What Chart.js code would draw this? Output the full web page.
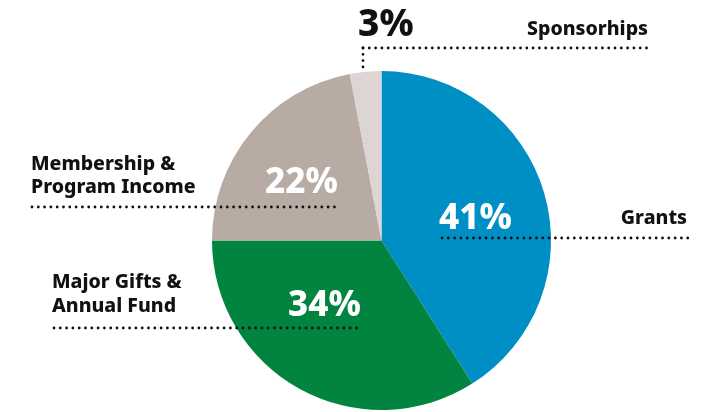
<!DOCTYPE html>
<html>
<head>
<meta charset="utf-8">
<script src="https://cdn.jsdelivr.net/npm/chart.js@4.4.1/dist/chart.umd.min.js"></script>
<style>
  html, body { margin: 0; padding: 0; background: #fff; }
  #wrap { width: 708px; height: 412px; position: relative; }
</style>
</head>
<body>
<div id="wrap"><canvas id="pie"></canvas></div>
<script>
// Data (clockwise from 12 o'clock)
const categories = ["Grants", "Major Gifts & Annual Fund", "Membership & Program Income", "Sponsorhips"];
const shares = [41, 34, 22, 3];
const sliceColors = ["#008FC5", "#00843F", "#B7ABA4", "#DCD5D3"];

const FONT = "'Noto Sans', 'Open Sans', sans-serif";

function dotted(ctx, x1, y1, x2, y2) {
  ctx.save();
  ctx.strokeStyle = "#111";
  ctx.lineWidth = 2.8;
  ctx.lineCap = "round";
  ctx.setLineDash([0, 6.3]);
  ctx.beginPath();
  ctx.moveTo(x1, y1);
  ctx.lineTo(x2, y2);
  ctx.stroke();
  ctx.restore();
}

function text(ctx, str, x, y, size, color, align) {
  ctx.font = "800 " + size + "px " + FONT;
  ctx.fillStyle = color;
  ctx.textAlign = align || "left";
  ctx.textBaseline = "alphabetic";
  ctx.fillText(str, x, y);
}

// Labels + leader lines
const calloutPlugin = {
  id: "callouts",
  afterDraw(chart) {
    const ctx = chart.ctx;
    ctx.save();
    // percentages inside slices
    text(ctx, shares[0] + "%", 439, 229, 35, "#fff");
    text(ctx, shares[1] + "%", 288, 316, 35, "#fff");
    text(ctx, shares[2] + "%", 265, 193, 35, "#fff");
    text(ctx, shares[3] + "%", 358, 36, 37, "#111");

    // category names
    text(ctx, "Grants", 687, 224, 19.5, "#111", "right");
    text(ctx, "Major Gifts &", 52, 288, 19.5, "#111");
    text(ctx, "Annual Fund", 52, 312, 19.5, "#111");
    text(ctx, "Membership &", 31, 170, 19.5, "#111");
    text(ctx, "Program Income", 31, 193, 19.5, "#111");
    text(ctx, "Sponsorhips", 648, 35, 19.5, "#111", "right");

    // dotted leaders
    dotted(ctx, 442, 238, 690, 238);
    dotted(ctx, 54, 328, 362, 328);
    dotted(ctx, 32, 207, 340, 207);
    dotted(ctx, 363, 48, 648, 48);
    dotted(ctx, 363, 48, 363, 67);
    ctx.restore();
  }
};

new Chart(document.getElementById("pie"), {
  type: "pie",
  data: {
    labels: categories,
    datasets: [{
      data: shares,
      backgroundColor: sliceColors,
      borderWidth: 0,
      hoverOffset: 0
    }]
  },
  options: {
    responsive: true,
    maintainAspectRatio: false,
    animation: false,
    events: [],
    layout: { padding: { left: 212, right: 157, top: 71, bottom: 2 } },
    plugins: {
      legend: { display: false },
      tooltip: { enabled: false }
    }
  },
  plugins: [calloutPlugin]
});
</script>
</body>
</html>
